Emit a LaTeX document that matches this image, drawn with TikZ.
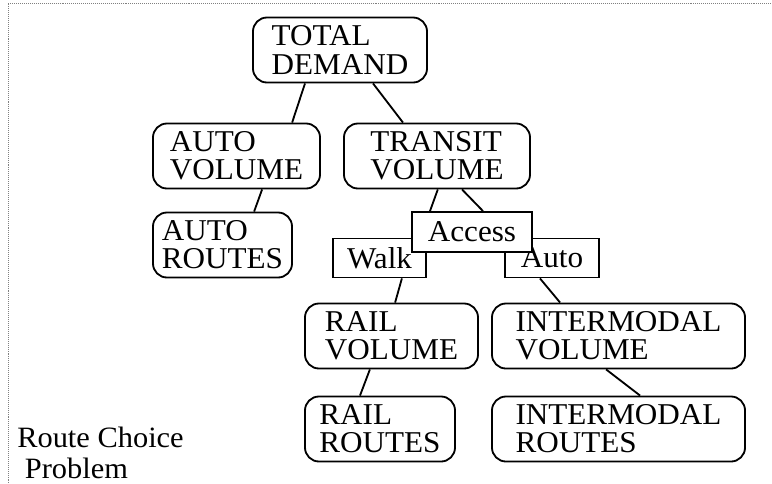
\documentclass[tikz,border=0pt]{standalone}
\usepackage{fontspec}
\setmainfont{Liberation Serif}[FakeStretch=1.03]

\begin{document}
\begin{tikzpicture}[
  x=0.025cm, y=-0.025cm,
  blk/.style={draw, line width=1.3pt, rounded corners=0.35cm, align=left, inner sep=0pt,
    minimum height=1.625cm, font=\fontsize{21.5}{20}\selectfont},
  tag/.style={draw, line width=1.3pt, fill=white, inner sep=0pt, minimum height=0.975cm,
    font=\fontsize{21.5}{20}\selectfont},
  lnk/.style={line width=1.3pt}
]
\useasboundingbox (0,0) rectangle (772,483);
\draw[densely dotted, gray] (8,483) -- (8,3) -- (772,3);

\node[blk, minimum width=4.35cm] (td) at (340,50) {TOTAL\\DEMAND};
\node[blk, minimum width=4.175cm] (av) at (236.5,156) {AUTO\\VOLUME};
\node[blk, minimum width=4.65cm] (tv) at (437,156) {TRANSIT\\VOLUME};
\node[blk, minimum width=3.475cm] (ar) at (222.5,245) {AUTO\\ROUTES};
\node[tag, minimum width=2.325cm] (walk) at (379.5,258) {Walk};
\node[tag, minimum width=2.35cm] (auto) at (552,258) {Auto};
\node[tag, minimum width=3cm, minimum height=1cm] (acc) at (472,232) {Access};
\node[blk, minimum width=4.325cm] (rv) at (391.5,336) {RAIL\\VOLUME};
\node[blk, minimum width=6.325cm] (iv) at (618.5,336) {INTERMODAL\\VOLUME};
\node[blk, minimum width=3.75cm] (rr) at (380,429) {RAIL\\ROUTES};
\node[blk, minimum width=6.325cm] (ir) at (618.5,429) {INTERMODAL\\ROUTES};
\node[font=\fontsize{21}{22}\selectfont, align=left, anchor=west, inner sep=0pt] (rcp) at (17,453) {Route Choice\\\ Problem};

\draw[lnk] ([xshift=-0.875cm]td.south) -- ([xshift=1.39cm]av.north);
\draw[lnk] ([xshift=0.825cm]td.south) -- ([xshift=-0.85cm]tv.north);
\draw[lnk] ([xshift=0.64cm]av.south) -- ([xshift=0.79cm]ar.north);
\draw[lnk] ([xshift=0.02cm]tv.south) -- ([xshift=-1.05cm]acc.north);
\draw[lnk] ([xshift=0.625cm]tv.south) -- ([xshift=0.275cm]acc.north);
\draw[lnk] ([xshift=0.56cm]walk.south) -- ([xshift=0.09cm]rv.north);
\draw[lnk] ([xshift=-0.3cm]auto.south) -- ([xshift=-1.46cm]iv.north);
\draw[lnk] ([xshift=-0.54cm]rv.south) -- ([xshift=-0.5cm]rr.north);
\draw[lnk] ([xshift=-0.31cm]iv.south) -- ([xshift=0.54cm]ir.north);
\end{tikzpicture}
\end{document}
